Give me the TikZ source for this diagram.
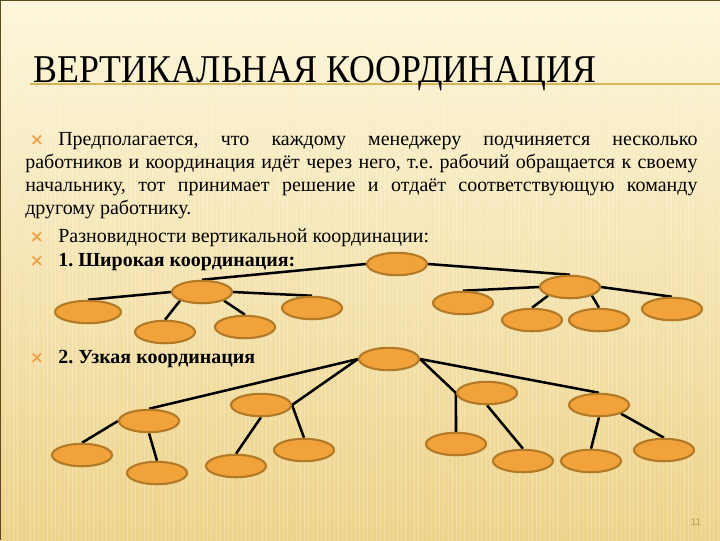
\documentclass[tikz,border=0pt]{standalone}
\usepackage{fontspec}
\setmainfont{Liberation Serif}
\newfontfamily\titlefont{Liberation Serif}[FakeStretch=0.91]
\newfontfamily\pagefont{Liberation Sans}
\newfontfamily\markfont{DejaVu Sans}
\usetikzlibrary{shapes.geometric}
\usetikzlibrary{patterns}

\pgfdeclarelayer{bg}
\pgfdeclarelayer{edges}
\pgfsetlayers{bg,edges,main}

\definecolor{paper}{HTML}{FDF6DA}
\definecolor{papermid}{HTML}{F8E6AE}
\definecolor{paperlow}{HTML}{EDD38A}
\definecolor{cell}{HTML}{F1A23A}
\definecolor{cellrim}{HTML}{B27A26}
\definecolor{mark}{HTML}{EFA24A}
\definecolor{gold}{HTML}{D9B357}
\definecolor{frame}{HTML}{5C4A1E}

\tikzset{
  unit/.style={ellipse, draw=cellrim, fill=cell, line width=1.5pt,
    minimum width=1.5cm, minimum height=0.56cm, inner sep=0pt},
  link/.style={line width=1.8pt, black},
  bul/.style={anchor=base, inner sep=0pt, text=mark,
    font=\markfont\fontsize{12}{12}\selectfont\bfseries},
  body/.style={anchor=base west, inner sep=0pt,
    font=\rmfamily\fontsize{14.2}{17}\selectfont},
}

\begin{document}
\frenchspacing
\begin{tikzpicture}[x=0.025cm, y=-0.025cm]
  \useasboundingbox (0,0) rectangle (720,540);
  \begin{pgfonlayer}{bg}
    \shade[top color=paper, middle color=papermid, bottom color=paperlow] (0,0) rectangle (720,540);
    \fill[pattern=vertical lines, pattern color=white, opacity=0.25] (0,0) rectangle (720,540);
    \draw[frame, line width=1.5pt] (0,540) -- (0,0) -- (720,0);
    \draw[gold, line width=1.2pt] (30,84) -- (720,84);
  \end{pgfonlayer}

  % title
  \node[anchor=base west, inner sep=0pt, font=\titlefont\fontsize{28}{28}\selectfont] (title) at (33,82)
    {ВЕРТИКАЛЬНАЯ КООРДИНАЦИЯ};

  % text
  \node[bul] (b1) at (37,145) {×};
  \node[body] (t1) at (58,145) {\makebox[15.975cm][s]{Предполагается, что каждому менеджеру подчиняется несколько}};
  \node[body] (t2) at (25,168) {\makebox[16.8cm][s]{работников и координация идёт через него, т.е. рабочий обращается к своему}};
  \node[body] (t3) at (25,191) {\makebox[16.8cm][s]{начальнику, тот принимает решение и отдаёт соответствующую команду}};
  \node[body] (t4) at (25,214) {другому работнику.};
  \node[bul] (b2) at (37,242) {×};
  \node[body] (t5) at (58,242) {Разновидности вертикальной координации:};
  \node[bul] (b3) at (37,266) {×};
  \node[body, font=\rmfamily\fontsize{14.2}{17}\selectfont\bfseries] (t6) at (58,266) {1. Широкая координация:};
  \node[bul] (b4) at (37,363) {×};
  \node[body, font=\rmfamily\fontsize{14.2}{17}\selectfont\bfseries] (t7) at (58,363) {2. Узкая координация};

  % wide tree
  \node[unit] (r1) at (397,264) {};
  \node[unit] (a1) at (202,292) {};
  \node[unit, minimum width=1.65cm] (l1) at (88,312) {};
  \node[unit] (l2) at (165,332) {};
  \node[unit] (l3) at (245,327) {};
  \node[unit] (l4) at (312,308) {};
  \node[unit] (h1) at (570,287) {};
  \node[unit] (m1) at (463,303) {};
  \node[unit] (m2) at (532,320) {};
  \node[unit] (m3) at (599,320) {};
  \node[unit] (m4) at (672,309) {};

  % narrow tree
  \node[unit] (r2) at (389,359) {};
  \node[unit] (c1) at (149,421) {};
  \node[unit] (c2) at (261,405) {};
  \node[unit] (d1) at (82,455) {};
  \node[unit] (d2) at (157,473) {};
  \node[unit] (d3) at (236,466) {};
  \node[unit] (d4) at (304,450) {};
  \node[unit] (e1) at (487,393) {};
  \node[unit] (e2) at (599,405) {};
  \node[unit] (f1) at (456,444) {};
  \node[unit] (f2) at (523,461) {};
  \node[unit] (f3) at (591,461) {};
  \node[unit] (f4) at (664,450) {};

  \begin{pgfonlayer}{edges}
    \draw[link] (r1.west) -- (a1.north);
    \draw[link] (a1.west) -- (l1.north);
    \draw[link] (a1.south west) -- (l2.north);
    \draw[link] (a1.south east) -- (l3.north);
    \draw[link] (a1.east) -- (l4.north);
    \draw[link] (r1.east) -- (h1.north);
    \draw[link] (h1.west) -- (m1.north);
    \draw[link] (h1.south west) -- (m2.north);
    \draw[link] (h1.south east) -- (m3.north);
    \draw[link] (h1.east) -- (m4.north);

    \draw[link] (r2.west) -- (c1.north);
    \draw[link] (r2.west) -- (c2.east);
    \draw[link] (c1.west) -- (d1.north);
    \draw[link] (c1.south) -- (d2.north);
    \draw[link] (c2.south) -- (d3.north);
    \draw[link] (c2.east) -- (d4.north);
    \draw[link] (r2.east) -- (e1.west);
    \draw[link] (e1.west) -- (f1.north);
    \draw[link] (e1.south) -- (f2.north);
    \draw[link] (r2.east) -- (e2.north);
    \draw[link] (e2.south) -- (f3.north);
    \draw[link] (e2.south east) -- (f4.north);
  \end{pgfonlayer}

  \node[inner sep=0pt, text=gold!85!black, font=\pagefont\fontsize{7}{7}\selectfont] (pg) at (696,522) {11};
\end{tikzpicture}
\end{document}
